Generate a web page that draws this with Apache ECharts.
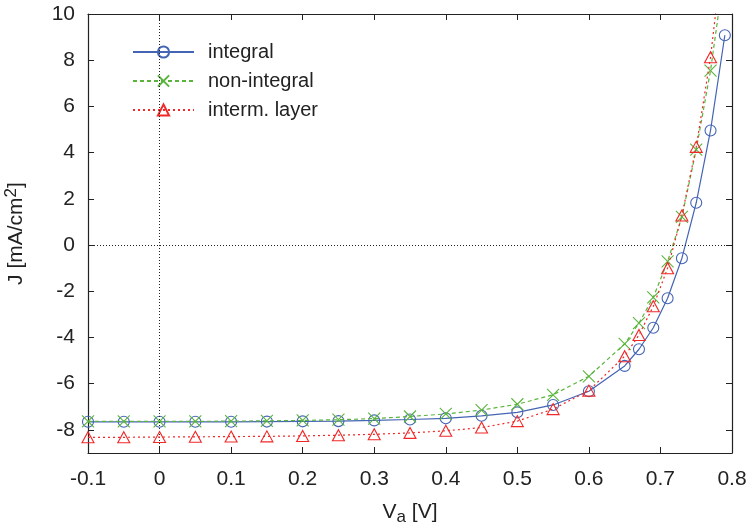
<!DOCTYPE html>
<html>
<head>
<meta charset="utf-8">
<script src="https://cdn.jsdelivr.net/npm/echarts@6/dist/echarts.min.js"></script>
<style>html,body{margin:0;padding:0;background:#fff;}#c{width:751px;height:526px;}</style>
</head>
<body>
<div id="c"></div>
<script>
const xVals = [-0.1,-0.05,0,0.05,0.1,0.15,0.2,0.25,0.3,0.35,0.4,0.45,0.5,0.55,0.6,0.65,0.67,0.69,0.71,0.73,0.75,0.77,0.79];
const integral = [-7.65,-7.65,-7.65,-7.65,-7.65,-7.64,-7.63,-7.62,-7.59,-7.55,-7.50,-7.39,-7.24,-6.92,-6.33,-5.23,-4.51,-3.58,-2.30,-0.57,1.83,4.96,9.08];
const nonIntegral = [-7.63,-7.63,-7.63,-7.63,-7.62,-7.61,-7.59,-7.56,-7.51,-7.42,-7.31,-7.14,-6.89,-6.48,-5.68,-4.28,-3.38,-2.26,-0.71,1.22,4.13,7.55,12.0];
const intermLayer = [-8.32,-8.32,-8.31,-8.30,-8.29,-8.28,-8.26,-8.23,-8.19,-8.13,-8.04,-7.90,-7.62,-7.10,-6.30,-4.81,-3.89,-2.65,-1.0,1.28,4.25,8.13,13.5];
const seriesNames = ['integral','non-integral','interm. layer'];
const xTicks = [-0.1,0,0.1,0.2,0.3,0.4,0.5,0.6,0.7,0.8];
const yTicks = [-8,-6,-4,-2,0,2,4,6,8,10];

const FONT = 'Liberation Sans';
const pairs = arr => xVals.map((x,i)=>[x,arr[i]]);
const blue = '#4464b4', green = '#5ab43c', red = '#f02828';
const axisLineStyle = {color:'#222', width:1.2};
const baseX = {type:'value', min:-0.1, max:0.8, splitLine:{show:false}};
const baseY = {type:'value', min:-9, max:10, splitLine:{show:false}};

const chart = echarts.init(document.getElementById('c'), null, {renderer:'canvas'});
chart.setOption({
  animation:false,
  backgroundColor:'#fff',
  textStyle:{fontFamily:FONT},
  grid:{left:88, right:19, top:14, bottom:73, containLabel:false, outerBoundsMode:'none'},
  legend:{
    orient:'vertical', left:124, top:34,
    itemWidth:61, itemHeight:14, itemGap:9,
    padding:[8,8,8,8],
    backgroundColor:'#fff',
    textStyle:{fontFamily:FONT, fontSize:20, color:'#222', padding:[0,0,0,9]},
    data:seriesNames
  },
  xAxis:[
    Object.assign({}, baseX, {
      position:'bottom',
      axisLine:{show:true, onZero:false, lineStyle:axisLineStyle},
      axisTick:{show:true, inside:true, length:6, customValues:xTicks, lineStyle:{color:'#222'}},
      axisLabel:{customValues:xTicks, fontFamily:FONT, fontSize:21, color:'#222', margin:16},
      name:'V{sub|a} [V]', nameLocation:'middle', nameGap:46,
      nameTextStyle:{fontFamily:FONT, fontSize:21, color:'#222',
        rich:{sub:{fontSize:17, verticalAlign:'bottom', padding:[10,0,0,0], fontFamily:FONT, color:'#222'}}}
    }),
    Object.assign({}, baseX, {
      position:'top',
      axisLine:{show:true, onZero:false, lineStyle:axisLineStyle},
      axisTick:{show:true, inside:true, length:6, customValues:xTicks, lineStyle:{color:'#222'}},
      axisLabel:{show:false}
    })
  ],
  yAxis:[
    Object.assign({}, baseY, {
      position:'left',
      axisLine:{show:true, onZero:false, lineStyle:axisLineStyle},
      axisTick:{show:true, inside:true, length:6, customValues:yTicks, lineStyle:{color:'#222'}},
      axisLabel:{customValues:yTicks, fontFamily:FONT, fontSize:21, color:'#222', margin:13},
      name:'J [mA/cm{sup|2}]', nameLocation:'middle', nameGap:58, nameRotate:90,
      nameTextStyle:{fontFamily:FONT, fontSize:21, color:'#222',
        rich:{sup:{fontSize:17, verticalAlign:'top', padding:[0,0,10,0], fontFamily:FONT, color:'#222'}}}
    }),
    Object.assign({}, baseY, {
      position:'right',
      axisLine:{show:true, onZero:false, lineStyle:axisLineStyle},
      axisTick:{show:true, inside:true, length:6, customValues:yTicks, lineStyle:{color:'#222'}},
      axisLabel:{show:false}
    })
  ],
  series:[
    {
      name:seriesNames[0], type:'line', data:pairs(integral), xAxisIndex:0, yAxisIndex:0,
      clip:true, symbol:'circle', symbolSize:11, showAllSymbol:true,
      lineStyle:{color:blue, width:1.2},
      itemStyle:{color:'rgba(255,255,255,0)', borderColor:blue, borderWidth:1.1},
      markLine:{
        silent:true, symbol:'none', animation:false,
        label:{show:false},
        lineStyle:{color:'#222', type:[1,2], width:1},
        data:[{xAxis:0},{yAxis:0}]
      },
      z:3
    },
    {
      name:seriesNames[1], type:'line', data:pairs(nonIntegral), xAxisIndex:0, yAxisIndex:0,
      clip:true, symbol:'path://M0,0L10,10M10,0L0,10', symbolSize:12, showAllSymbol:true,
      lineStyle:{color:green, width:1.2, type:[4,3]},
      itemStyle:{color:'rgba(255,255,255,0)', borderColor:green, borderWidth:1.1},
      z:4
    },
    {
      name:seriesNames[2], type:'line', data:pairs(intermLayer), xAxisIndex:0, yAxisIndex:0,
      clip:true, symbol:'triangle', symbolSize:[12,11], showAllSymbol:true,
      lineStyle:{color:red, width:1.2, type:[2,3]},
      itemStyle:{color:'rgba(255,255,255,0)', borderColor:red, borderWidth:1.1},
      z:5
    }
  ]
});
</script>
</body>
</html>
